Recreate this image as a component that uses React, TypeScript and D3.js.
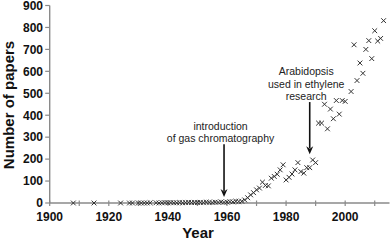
import React from 'react';
import * as d3 from 'd3';

const years = [
  1908, 1915, 1924, 1927, 1928, 1930, 1931, 1932, 1933, 1934,
  1936, 1937, 1938, 1939, 1940, 1941, 1942, 1943, 1944, 1945,
  1946, 1947, 1948, 1949, 1950, 1951, 1952, 1953, 1954, 1955,
  1956, 1957, 1958, 1959, 1960, 1961, 1962, 1963, 1964, 1965,
  1966, 1967, 1968, 1969, 1970, 1971, 1972, 1973, 1974, 1975,
  1976, 1977, 1978, 1979, 1980, 1981, 1982, 1983, 1984, 1985,
  1986, 1987, 1988, 1989, 1990, 1991, 1992, 1993, 1994, 1995,
  1996, 1997, 1998, 1999, 2000, 2002, 2003, 2004, 2005, 2006,
  2007, 2008, 2009, 2010, 2011, 2012, 2013,
];
const papers = [
  0, 0, 0, 0, 0, 0, 0, 0, 0, 1,
  1, 0, 1, 2, 1, 2, 1, 1, 2, 1,
  2, 3, 2, 3, 2, 3, 2, 4, 3, 2,
  4, 3, 5, 3, 4, 6, 5, 8, 7, 8,
  14, 24, 37, 47, 60, 68, 95, 80, 78, 113,
  121, 131, 151, 174, 105, 117, 132, 151, 184, 143,
  136, 161, 161, 196, 184, 364, 364, 450, 338, 428,
  384, 467, 405, 467, 463, 508, 721, 558, 638, 591,
  700, 740, 658, 785, 738, 750, 831,
];

const xTickValues = [1900, 1910, 1920, 1930, 1940, 1950, 1960, 1970, 1980, 1990, 2000, 2010];
const xTickLabels = [1900, 1920, 1940, 1960, 1980, 2000];
const yTickValues = [0, 100, 200, 300, 400, 500, 600, 700, 800, 900];

const annotationLines = [
  ['introduction', 'of gas chromatography'],
  ['Arabidopsis', 'used in ethylene', 'research'],
];
const annotationYears = [1959, 1988];
const arrowFrom = [268, 460];
const arrowTo = [27, 222];

const W = 390;
const H = 242;
const FONT = "'Liberation Sans', Arial, Helvetica, sans-serif";

export default function App() {
  const x = d3.scaleLinear().domain([1900, 2015]).range([49.7, 389.5]);
  const y = d3.scaleLinear().domain([0, 900]).range([203, 5.5]);
  const axisColor = '#8a8a8a';
  const cross = (cx: number, cy: number, r: number) =>
    `M${cx - r},${cy - r}L${cx + r},${cy + r}M${cx - r},${cy + r}L${cx + r},${cy - r}`;

  return (
    <svg
      width={W}
      height={H}
      style={{ position: 'absolute', left: 0, top: 0, background: '#fff' }}
      fontFamily={FONT}
    >
      <rect width={W} height={H} fill="#fff" />
      {/* y axis */}
      <line x1={x(1900)} x2={x(1900)} y1={y(900)} y2={y(0)} stroke={axisColor} strokeWidth={1.4} />
      {yTickValues.map((v) => (
        <g key={'y' + v}>
          <line x1={x(1900) - 4.5} x2={x(1900)} y1={y(v)} y2={y(v)} stroke={axisColor} strokeWidth={1.2} />
          <text x={43} y={y(v)} dy="0.36em" textAnchor="end" fontSize={12} fontWeight="bold" fill="#111">
            {v}
          </text>
        </g>
      ))}
      {/* x axis */}
      <line x1={x(1900)} x2={x(2015)} y1={y(0)} y2={y(0)} stroke={axisColor} strokeWidth={1.4} />
      {xTickValues.map((v) => (
        <line key={'xt' + v} x1={x(v)} x2={x(v)} y1={y(0) - 2.5} y2={y(0) + 3} stroke={axisColor} strokeWidth={1.2} />
      ))}
      {xTickLabels.map((v) => (
        <text key={'xl' + v} x={x(v)} y={221} textAnchor="middle" fontSize={12} fontWeight="bold" fill="#111">
          {v}
        </text>
      ))}
      {/* axis titles */}
      <text x={198} y={238} textAnchor="middle" fontSize={15} fontWeight="bold" fill="#111">
        Year
      </text>
      <text
        transform={`translate(14,105) rotate(-90)`}
        textAnchor="middle"
        fontSize={15}
        fontWeight="bold"
        fill="#111"
      >
        Number of papers
      </text>
      {/* data */}
      {years.map((yr, i) => (
        <path key={'p' + i} d={cross(x(yr), y(papers[i]), 2.4)} stroke="#333" strokeWidth={1} fill="none" />
      ))}
      {/* annotations */}
      {annotationLines.map((lines, i) => {
        const ax = x(annotationYears[i]);
        const top = y(arrowFrom[i]);
        const tip = y(arrowTo[i]);
        const n = lines.length;
        return (
          <g key={'a' + i}>
            {lines.map((t, j) => (
              <text
                key={j}
                x={ax - 3.5}
                y={top - 2 - (n - 1 - j) * 12.5}
                textAnchor="middle"
                fontSize={10.5}
                fill="#222"
              >
                {t}
              </text>
            ))}
            <line x1={ax} x2={ax} y1={top} y2={tip - 6} stroke="#111" strokeWidth={1.6} />
            <path d={`M${ax - 3.5},${tip - 8}L${ax},${tip}L${ax + 3.5},${tip - 8}L${ax},${tip - 5.5}Z`} fill="#111" />
          </g>
        );
      })}
    </svg>
  );
}
